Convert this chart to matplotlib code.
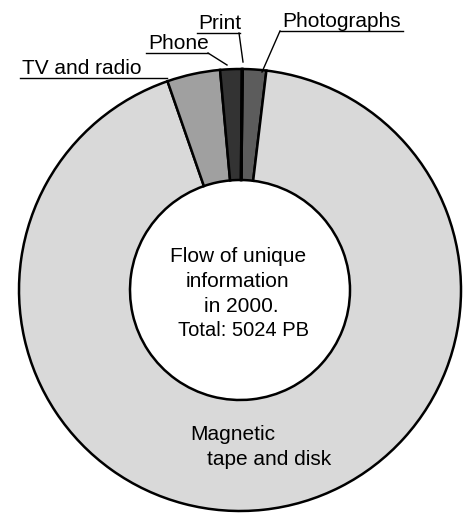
import numpy as np
import matplotlib
matplotlib.use("Agg")
import matplotlib.pyplot as plt

# flow of unique information in 2000, petabytes
categories = ["Photographs", "Magnetic tape and disk", "TV and radio", "Phone", "Print"]
values = [86, 4661, 195, 79, 3]
colors = ["#5c5c5c", "#d9d9d9", "#a0a0a0", "#333333", "#4a4a4a"]
total_label = "Total: 5024 PB"

W, H = 463, 514
plt.rcParams["font.family"] = ["Liberation Sans", "DejaVu Sans"]

fig = plt.figure(figsize=(W / 100, H / 100), dpi=100)
ax = fig.add_axes([0, 0, 1, 1])

def py(y):
    # pixel row -> data y
    return H - y

cx, cy, R, r_in = 240, py(290), 221, 110
ax.pie(values, colors=colors, startangle=89.3, counterclock=False,
       center=(cx, cy), radius=R, frame=True,
       wedgeprops=dict(width=R - r_in, edgecolor="black", linewidth=1.8))
ax.set_xlim(0, W)
ax.set_ylim(0, H)
ax.set_aspect("equal")
ax.axis("off")

fs = 15
# outside labels: text position, underline span, leader start/end
labels = [
    ("Photographs", (282, 27), (280, 403), (280, 262, 72)),
    ("Print", (198, 29), (197, 240), (239, 243, 62)),
    ("Phone", (148, 49), (146, 208), (208, 227, 65)),
    ("TV and radio", (22, 74), (20, 167), None),
]
for txt, (tx, ty), (ux0, ux1), lead in labels:
    ax.text(tx, py(ty), txt, fontsize=fs, ha="left", va="baseline")
    uy = ty + 4
    ax.plot([ux0, ux1], [py(uy), py(uy)], color="black", lw=1.0)
    if lead is not None:
        sx, ex, ey = lead
        ax.plot([sx, ex], [py(uy), py(ey)], color="black", lw=1.0)

ax.text(238.5, py(262), "Flow of unique", fontsize=fs, ha="center", va="baseline")
ax.text(237.5, py(287), "information", fontsize=fs, ha="center", va="baseline")
ax.text(241.5, py(312), "in 2000.", fontsize=fs, ha="center", va="baseline")
ax.text(243, py(336), total_label, fontsize=fs - 0.5, ha="center", va="baseline")
ax.text(190, py(440), "Magnetic", fontsize=fs, ha="left", va="baseline")
ax.text(207, py(465), "tape and disk", fontsize=fs, ha="left", va="baseline")

fig.savefig("out.png", dpi=100, facecolor="white")
